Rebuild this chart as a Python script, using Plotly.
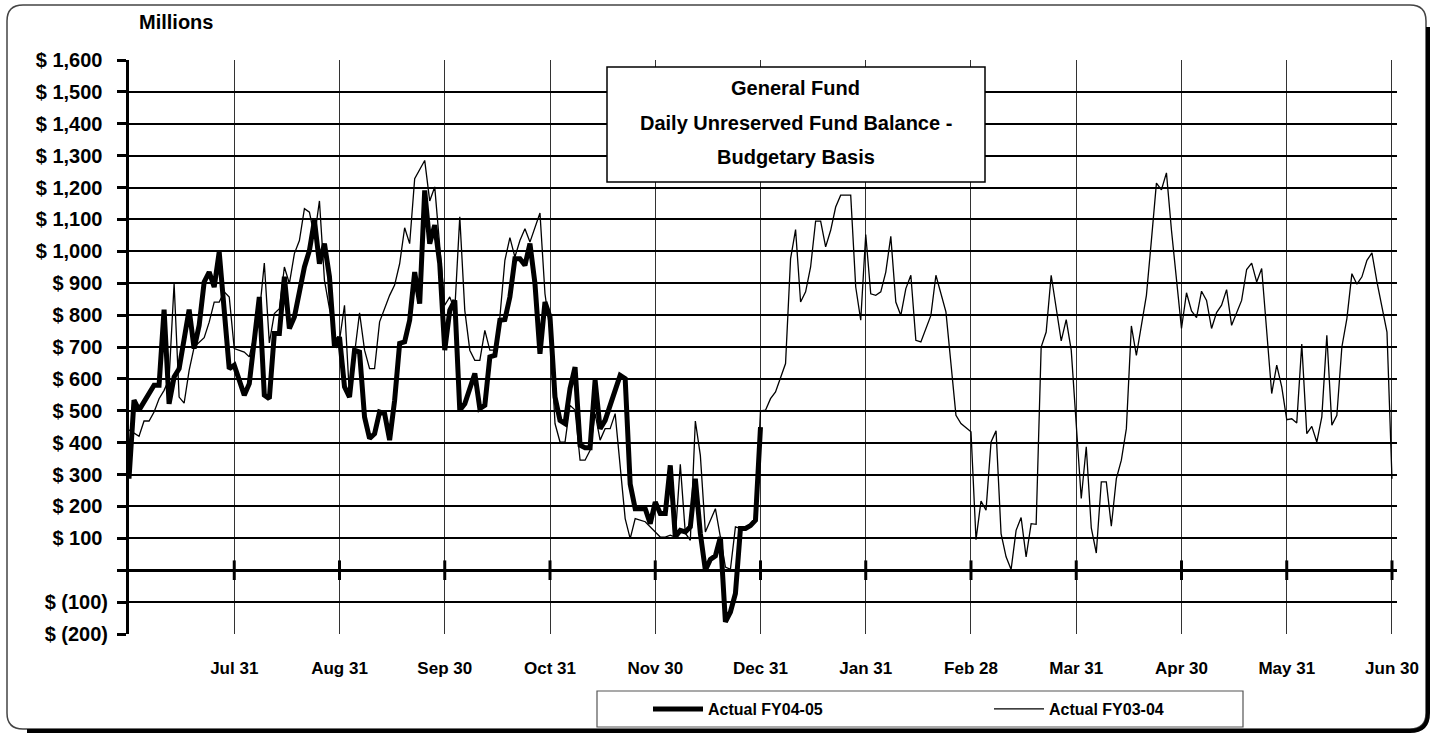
import plotly.graph_objects as go

# ---------------- data (x = business-day number on the chart's axis, 21 per month) -------------
fy0405_day = [0, 1, 2, 5, 6, 7, 8, 9, 10, 12, 13, 14, 15, 16, 17, 18, 20, 21, 23, 24,
              26, 27, 28, 29, 30, 31, 32, 33, 35, 36, 37, 38, 39, 40, 41, 42, 43, 44, 45, 46,
              47, 48, 49, 50, 51, 52, 53, 54, 55, 56, 57, 58, 59, 60, 61, 62, 63, 64, 65, 66,
              67, 69, 70, 71, 72, 73, 74, 75, 76, 77, 78, 79, 80, 81, 82, 83, 84, 85, 86, 87,
              88, 89, 90, 91, 92, 93, 94, 95, 97, 98, 99, 100, 101, 103, 104, 105, 106, 107, 108, 109,
              110, 111, 112, 113, 114, 115, 116, 117, 118, 119, 120, 121, 122, 123, 124, 125, 126]
fy0405_val = [287, 533, 502, 580, 580, 817, 522, 606, 632, 817, 695, 768, 904, 935, 888, 998, 632, 643, 549, 585,
              857, 549, 538, 742, 742, 920, 758, 794, 951, 1003, 1097, 961, 1024, 920, 700, 731, 575, 543, 690, 684,
              480, 413, 428, 496, 491, 408, 533, 711, 716, 784, 935, 836, 1191, 1024, 1082, 961, 690, 815, 846, 502,
              522, 617, 507, 517, 669, 674, 784, 786, 857, 977, 977, 956, 1024, 899, 679, 841, 794, 543, 470, 460,
              570, 637, 392, 384, 384, 596, 444, 470, 564, 611, 601, 270, 193, 193, 146, 214, 178, 178, 329, 104,
              125, 120, 136, 287, 115, 0, 34, 45, 104, -162, -131, -73, 131, 131, 140, 157, 449]

fy0304_day = [0, 1, 2, 3, 4, 5, 6, 7, 8, 9, 10, 11, 12, 13, 15, 16, 17, 18, 19, 20,
              21, 23, 24, 26, 27, 28, 29, 30, 31, 32, 33, 34, 35, 36, 37, 38, 39, 41, 42, 43,
              44, 45, 46, 47, 48, 49, 50, 52, 53, 54, 55, 56, 57, 59, 60, 61, 63, 64, 65, 66,
              67, 68, 69, 70, 71, 72, 73, 74, 75, 76, 77, 78, 79, 80, 82, 83, 84, 85, 86, 87,
              88, 89, 90, 91, 92, 93, 94, 95, 96, 97, 99, 100, 101, 103, 104, 106, 107, 108, 109, 110,
              111, 112, 113, 114, 115, 117, 118, 119, 120, 121, 122, 124, 125, 126, 127, 128, 129, 130, 131, 132,
              133, 134, 135, 136, 137, 138, 139, 140, 141, 142, 144, 145, 146, 147, 148, 149, 150, 151, 152, 153,
              154, 155, 156, 157, 158, 160, 161, 163, 164, 165, 166, 168, 169, 170, 171, 172, 173, 174, 175, 176,
              177, 178, 179, 180, 181, 182, 183, 184, 186, 187, 188, 189, 190, 191, 192, 193, 194, 195, 196, 197,
              198, 199, 200, 201, 202, 203, 204, 205, 206, 207, 208, 209, 210, 211, 212, 213, 214, 215, 216, 217,
              218, 219, 220, 222, 223, 224, 225, 226, 228, 229, 230, 231, 232, 233, 234, 235, 236, 237, 238, 239,
              240, 241, 242, 243, 244, 245, 246, 247, 248, 249, 250, 251, 252]
fy0304_val = [440, 430, 420, 468, 468, 496, 538, 564, 600, 899, 543, 524, 627, 700, 729, 778, 841, 841, 873, 857,
              695, 684, 669, 805, 963, 713, 805, 820, 951, 899, 993, 1034, 1134, 1123, 1045, 1158, 909, 731, 721, 831,
              543, 679, 807, 690, 632, 632, 779, 862, 894, 961, 1074, 1024, 1228, 1285, 1158, 1202, 831, 857, 815, 1108,
              815, 690, 658, 658, 752, 690, 690, 794, 972, 1043, 982, 1034, 1071, 1029, 1120, 867, 752, 460, 402, 402,
              517, 502, 345, 345, 376, 491, 408, 444, 444, 491, 162, 99, 162, 152, 136, 104, 104, 110, 104, 332,
              116, 94, 468, 360, 120, 193, 104, 10, 3, 136, 131, 141, 167, 500, 502, 538, 559, 601, 648, 977,
              1068, 841, 873, 951, 1095, 1095, 1014, 1066, 1139, 1176, 1176, 888, 784, 1053, 867, 862, 873, 935, 1047, 841,
              799, 883, 925, 721, 716, 799, 925, 810, 648, 486, 460, 434, 96, 217, 188, 402, 437, 115, 42, 2,
              125, 165, 42, 146, 144, 700, 747, 925, 719, 786, 690, 439, 225, 387, 133, 54, 277, 277, 138, 287,
              345, 444, 766, 674, 773, 862, 1035, 1214, 1193, 1246, 1066, 920, 758, 870, 813, 792, 875, 846, 758, 808,
              831, 880, 768, 846, 943, 963, 904, 946, 554, 643, 575, 472, 475, 462, 709, 428, 451, 402, 481, 737,
              455, 486, 700, 789, 930, 897, 920, 972, 995, 904, 831, 747, 287]

month_end_day = [21, 42, 63, 84, 105, 126, 147, 168, 189, 210, 231, 252]
month_labels = ["Jul 31", "Aug 31", "Sep 30", "Oct 31", "Nov 30", "Dec 31",
                "Jan 31", "Feb 28", "Mar 31", "Apr 30", "May 31", "Jun 30"]
y_ticks = [-200, -100, 0, 100, 200, 300, 400, 500, 600, 700, 800, 900,
           1000, 1100, 1200, 1300, 1400, 1500, 1600]
y_labels = ["$ (200)", "$ (100)", "", "$ 100\u00a0", "$ 200\u00a0", "$ 300\u00a0", "$ 400\u00a0",
            "$ 500\u00a0", "$ 600\u00a0", "$ 700\u00a0", "$ 800\u00a0", "$ 900\u00a0", "$ 1,000\u00a0",
            "$ 1,100\u00a0", "$ 1,200\u00a0", "$ 1,300\u00a0", "$ 1,400\u00a0", "$ 1,500\u00a0", "$ 1,600\u00a0"]
title_lines = ["General Fund", "Daily Unreserved Fund Balance -", "Budgetary Basis"]

# ---------------- layout helpers ----------------
W, H = 1435, 734
L, R, T, B = 129, 1397, 60, 634
FONT = "Liberation Sans, Arial, sans-serif"


def px(x):
    return (x - L) / (R - L)


def py(y):
    return (B - y) / (B - T)


fig = go.Figure()
fig.add_trace(go.Scatter(x=fy0304_day, y=fy0304_val, mode="lines", name="Actual FY03-04",
                         line=dict(color="black", width=1.3), legendrank=2, hoverinfo="skip"))
fig.add_trace(go.Scatter(x=fy0405_day, y=fy0405_val, mode="lines", name="Actual FY04-05",
                         line=dict(color="black", width=5), legendrank=1, hoverinfo="skip"))
fig.add_trace(go.Scatter(x=month_end_day, y=[0] * len(month_end_day), mode="markers",
                         marker=dict(symbol="line-ns", size=14, line=dict(width=3, color="black")),
                         showlegend=False, hoverinfo="skip", cliponaxis=False))

# outer rounded frame
x0, x1, y0, y1, r = 7, 1426, 5, 729, 16
frame = (f"M {px(x0 + r)},{py(y0)} L {px(x1 - r)},{py(y0)} Q {px(x1)},{py(y0)} {px(x1)},{py(y0 + r)} "
         f"L {px(x1)},{py(y1 - r)} Q {px(x1)},{py(y1)} {px(x1 - r)},{py(y1)} "
         f"L {px(x0 + r)},{py(y1)} Q {px(x0)},{py(y1)} {px(x0)},{py(y1 - r)} "
         f"L {px(x0)},{py(y0 + r)} Q {px(x0)},{py(y0)} {px(x0 + r)},{py(y0)} Z")
s = 2
shadow = (f"M {px(x1 + s)},{py(y0 + r + 6)} L {px(x1 + s)},{py(y1 - r)} "
          f"Q {px(x1 + s)},{py(y1 + s)} {px(x1 - r)},{py(y1 + s)} L {px(x0 + r + 4)},{py(y1 + s)}")
shapes = [
    dict(type="path", path=frame, xref="paper", yref="paper", line=dict(color="#444", width=1.5)),
    dict(type="path", path=shadow, xref="paper", yref="paper", line=dict(color="black", width=4)),
    dict(type="rect", xref="paper", yref="paper", x0=px(607), x1=px(985), y0=py(182), y1=py(67),
         fillcolor="white", line=dict(color="black", width=1.5), layer="above"),
    dict(type="rect", xref="paper", yref="paper", x0=px(597), x1=px(1243), y0=py(727), y1=py(691),
         fillcolor="white", line=dict(color="#555", width=1.2), layer="above"),
]

annotations = [dict(text="Millions", x=px(176), y=py(22), xref="paper", yref="paper",
                    xanchor="center", yanchor="middle", showarrow=False,
                    font=dict(family=FONT, size=20, color="black", weight="bold"))]
for txt, yy in zip(title_lines, [88, 123, 157]):
    annotations.append(dict(text=txt, x=px(796), y=py(yy), xref="paper", yref="paper", showarrow=False,
                            xanchor="center", yanchor="middle",
                            font=dict(family=FONT, size=20, color="black", weight="bold")))

fig.update_layout(
    width=W, height=H, margin=dict(l=L, r=W - R, t=T, b=H - B, autoexpand=False),
    paper_bgcolor="white", plot_bgcolor="white",
    shapes=shapes, annotations=annotations,
    font=dict(family=FONT, color="black"),
    legend=dict(orientation="h", x=px(648), y=py(709), xanchor="left", yanchor="middle",
                bgcolor="rgba(0,0,0,0)", borderwidth=0, entrywidth=276, entrywidthmode="pixels",
                font=dict(family=FONT, size=16, color="black", weight="bold"), itemwidth=50),
    xaxis=dict(range=[0, 253], tickvals=month_end_day, ticktext=month_labels, automargin=False,
               showgrid=True, gridcolor="#333", gridwidth=1, zeroline=False, showline=False,
               ticks="", ticklabelstandoff=22,
               tickfont=dict(family=FONT, size=17, color="black", weight="bold")),
    yaxis=dict(range=[-200, 1600], tickvals=y_ticks, ticktext=y_labels, automargin=False,
               showgrid=True, gridcolor="black", gridwidth=1.6,
               zeroline=True, zerolinecolor="black", zerolinewidth=3,
               showline=True, linecolor="black", linewidth=3,
               ticks="outside", ticklen=9, tickwidth=3, tickcolor="black", ticklabelstandoff=5,
               tickfont=dict(family=FONT, size=20, color="black", weight="bold")),
)

fig.write_html("out.html", config={"displayModeBar": False},
               post_script="document.body.style.margin='0';document.body.style.overflow='hidden';")
